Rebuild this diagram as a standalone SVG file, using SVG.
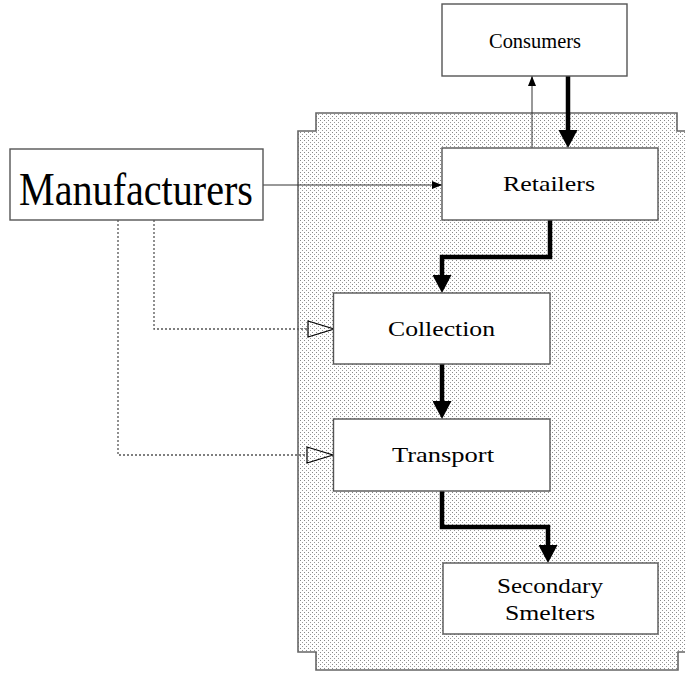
<svg xmlns="http://www.w3.org/2000/svg" width="685" height="673" viewBox="0 0 685 673">
<style>
.box{fill:#fff;stroke:#555;stroke-width:1.4}
.lbl{font-family:"Liberation Serif","DejaVu Serif",serif;font-size:21px;fill:#000;text-anchor:middle}
.big{font-size:46px}
.thick{fill:none;stroke:#000;stroke-width:4.5;stroke-linejoin:miter}
.thin{fill:none;stroke:#333;stroke-width:1}
.dash{fill:none;stroke:#555;stroke-width:1.3;stroke-dasharray:2 2}
.hollow{fill:none;stroke:#000;stroke-width:1.2}
</style>
<defs>
<pattern id="dots" width="4" height="4" patternUnits="userSpaceOnUse">
<rect width="4" height="4" fill="#fff"/>
<rect x="0" y="0" width="1" height="1" fill="#888"/>
<rect x="2" y="2" width="1" height="1" fill="#999"/>
</pattern>
<marker id="ah" markerUnits="userSpaceOnUse" markerWidth="19" markerHeight="19" refX="8" refY="9.5" orient="auto" viewBox="0 0 19 19">
<path d="M0,0 L18,9.5 L0,19 Z" fill="#000"/>
</marker>
<marker id="ahs" markerUnits="userSpaceOnUse" markerWidth="11" markerHeight="9" refX="10" refY="4.5" orient="auto" viewBox="0 0 11 9">
<path d="M0,0.5 L10,4.5 L0,8.5 Z" fill="#000"/>
</marker>
</defs>
<g id="region">
<path d="M316,113 H677 V131 H700 V652 H678 V670 H316 V652 H298 V131 H316 Z" fill="url(#dots)" stroke="#666" stroke-width="1.6"/>
</g>
<g id="connectors">
<path class="thick" d="M568,76 V138" marker-end="url(#ah)"/>
<path class="thin" d="M532,148 V76" marker-end="url(#ahs)"/>
<path class="thin" d="M263,185 H442" marker-end="url(#ahs)"/>
<path class="thick" d="M550,220 V257 H442 V283" marker-end="url(#ah)"/>
<path class="thick" d="M442,364 V409" marker-end="url(#ah)"/>
<path class="thick" d="M442,491 V527 H548 V553" marker-end="url(#ah)"/>
<path class="dash" d="M154,220 V329 H308"/>
<polygon class="hollow" points="308,321 334,329 308,337"/>
<path class="dash" d="M118,220 V455 H307"/>
<polygon class="hollow" points="307,447 333,455 307,463"/>
</g>
<g id="manufacturers">
<rect class="box" x="10" y="149" width="253" height="71"/>
<text class="lbl big" x="136" y="205" textLength="234" lengthAdjust="spacingAndGlyphs">Manufacturers</text>
</g>
<g id="consumers">
<rect class="box" x="442" y="4" width="185" height="72"/>
<text class="lbl" x="535" y="48" textLength="92" lengthAdjust="spacingAndGlyphs">Consumers</text>
</g>
<g id="retailers">
<rect class="box" x="442" y="148" width="216" height="72"/>
<text class="lbl" x="549" y="191" textLength="92" lengthAdjust="spacingAndGlyphs">Retailers</text>
</g>
<g id="collection">
<rect class="box" x="333.5" y="293" width="216.5" height="71"/>
<text class="lbl" x="441.5" y="336" textLength="107" lengthAdjust="spacingAndGlyphs">Collection</text>
</g>
<g id="transport">
<rect class="box" x="333.5" y="419" width="216.5" height="72"/>
<text class="lbl" x="443" y="462" textLength="102" lengthAdjust="spacingAndGlyphs">Transport</text>
</g>
<g id="smelters">
<rect class="box" x="443" y="563" width="215" height="71"/>
<text class="lbl" x="550" y="593" textLength="106" lengthAdjust="spacingAndGlyphs">Secondary</text>
<text class="lbl" x="550" y="620" textLength="90" lengthAdjust="spacingAndGlyphs">Smelters</text>
</g>
</svg>
